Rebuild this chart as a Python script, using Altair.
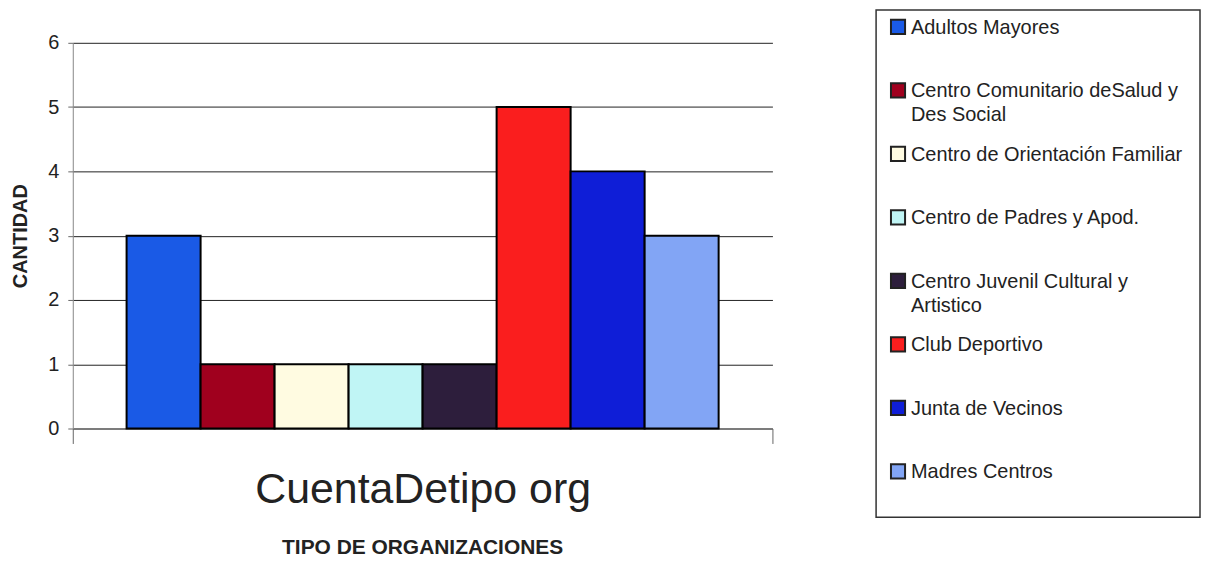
import altair as alt
import pandas as pd

categorias = [
    "Adultos Mayores",
    "Centro Comunitario deSalud y Des Social",
    "Centro de Orientación Familiar",
    "Centro de Padres y Apod.",
    "Centro Juvenil Cultural y Artistico",
    "Club Deportivo",
    "Junta de Vecinos",
    "Madres Centros",
]
etiquetas = [
    "Adultos Mayores",
    "Centro Comunitario deSalud y\nDes Social",
    "Centro de Orientación Familiar",
    "Centro de Padres y Apod.",
    "Centro Juvenil Cultural y\nArtistico",
    "Club Deportivo",
    "Junta de Vecinos",
    "Madres Centros",
]
valores = [3, 1, 1, 1, 1, 5, 4, 3]
colores = ["#1a5ae6", "#a0001e", "#fffbe1", "#c0f5f5", "#2d1e3c",
           "#fa1e1e", "#0f1ed7", "#82a5f5"]
grupo = ["Total"] * len(categorias)

df = pd.DataFrame({"tipo": categorias, "cantidad": valores,
                   "grupo": grupo, "etiqueta": etiquetas})

FONT = "Liberation Sans"
color_scale = alt.Scale(domain=categorias, range=colores)

main = alt.Chart(df).mark_bar(stroke="black", strokeWidth=2).encode(
    x=alt.X("grupo:N",
            scale=alt.Scale(paddingInner=0, paddingOuter=0),
            axis=alt.Axis(labels=False, tickBand="extent", tickSize=15,
                          tickColor="#666", domainColor="#666",
                          title="CuentaDetipo org", titleFontSize=43,
                          titleFontWeight="normal", titleColor="#222",
                          titlePadding=25, grid=False)),
    xOffset=alt.XOffset("tipo:N", sort=categorias,
                        scale=alt.Scale(paddingInner=0, paddingOuter=0.727)),
    y=alt.Y("cantidad:Q",
            scale=alt.Scale(domain=[0, 6], range=[420, 33]),
            axis=alt.Axis(values=[0, 1, 2, 3, 4, 5, 6], format="d",
                          grid=True, gridColor="#222", gridWidth=1,
                          tickSize=5, tickColor="#666", domainColor="#888",
                          labelFontSize=20, labelColor="#222", labelPadding=9,
                          title="CANTIDAD", titleFontSize=20,
                          titleFontWeight="bold", titleColor="#222",
                          titlePadding=17)),
    color=alt.Color("tipo:N", scale=color_scale, legend=None),
).properties(
    width=702, height=420,
    view=alt.ViewBackground(stroke=None),
    title=alt.TitleParams("TIPO DE ORGANIZACIONES", orient="bottom",
                          fontSize=21, fontWeight="bold", color="#222",
                          offset=25, frame="group", anchor="middle"),
)

ley_y = alt.Y("tipo:N", sort=categorias, axis=None,
              scale=alt.Scale(type="point", padding=0.494, align=0.27))

squares = alt.Chart(df).mark_square(size=200, stroke="#222", strokeWidth=2,
                                    opacity=1).encode(
    x=alt.value(22),
    y=ley_y,
    color=alt.Color("tipo:N", scale=color_scale, legend=None),
)
texts = alt.Chart(df).mark_text(align="left", baseline="top", dy=-9,
                                fontSize=20, lineBreak="\n", lineHeight=24,
                                color="#222", font=FONT).encode(
    x=alt.value(35),
    y=ley_y,
    text="etiqueta:N",
)
legend = alt.layer(squares, texts).properties(
    width=325, height=509,
    view=alt.ViewBackground(stroke="#333", strokeWidth=1.5),
)

chart = alt.hconcat(main, legend, spacing=102).properties(
    padding={"left": 2, "top": 0, "right": 0, "bottom": 0},
).configure(font=FONT)

chart.save("out.html", embed_options={"renderer": "svg", "actions": False})
